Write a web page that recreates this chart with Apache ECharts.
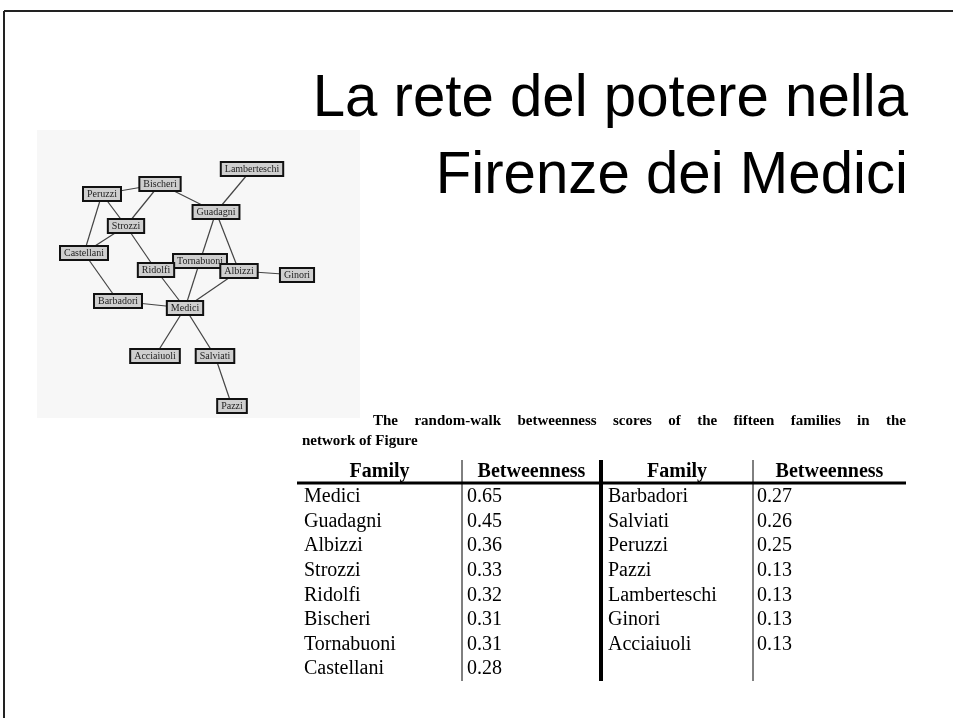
<!DOCTYPE html>
<html>
<head>
<meta charset="utf-8">
<script src="https://cdn.jsdelivr.net/npm/echarts@6/dist/echarts.min.js"></script>
<style>
  html, body { margin: 0; padding: 0; background: #fff; }
  #main { width: 953px; height: 718px; }
</style>
</head>
<body>
<div id="main"></div>
<script>
var dom = document.getElementById('main');
var myChart = echarts.init(dom, null, { renderer: 'canvas' });

// network: node names and their place inside the figure (figure units, origin top-left)
var nodeNames = ['Lamberteschi', 'Bischeri', 'Peruzzi', 'Guadagni', 'Strozzi', 'Castellani',
    'Tornabuoni', 'Ridolfi', 'Albizzi', 'Ginori', 'Barbadori', 'Medici', 'Acciaiuoli', 'Salviati', 'Pazzi'];
var nodeX = [215, 123, 65, 179, 89, 47, 163, 119, 202, 260, 81, 148, 118, 178, 195];
var nodeY = [39, 54, 64, 82, 96, 123, 131, 140, 141, 145, 171, 178, 226, 226, 276];
var linkFrom = ['Peruzzi', 'Peruzzi', 'Peruzzi', 'Bischeri', 'Bischeri', 'Lamberteschi', 'Guadagni',
    'Guadagni', 'Albizzi', 'Albizzi', 'Strozzi', 'Strozzi', 'Castellani', 'Ridolfi', 'Ridolfi',
    'Barbadori', 'Medici', 'Medici', 'Salviati', 'Tornabuoni'];
var linkTo = ['Bischeri', 'Strozzi', 'Castellani', 'Strozzi', 'Guadagni', 'Guadagni', 'Tornabuoni',
    'Albizzi', 'Ginori', 'Medici', 'Castellani', 'Ridolfi', 'Barbadori', 'Medici', 'Tornabuoni',
    'Medici', 'Acciaiuoli', 'Salviati', 'Pazzi', 'Medici'];

// table
var families1 = ['Medici', 'Guadagni', 'Albizzi', 'Strozzi', 'Ridolfi', 'Bischeri', 'Tornabuoni', 'Castellani'];
var scores1 = ['0.65', '0.45', '0.36', '0.33', '0.32', '0.31', '0.31', '0.28'];
var families2 = ['Barbadori', 'Salviati', 'Peruzzi', 'Pazzi', 'Lamberteschi', 'Ginori', 'Acciaiuoli'];
var scores2 = ['0.27', '0.26', '0.25', '0.13', '0.13', '0.13', '0.13'];
var headers = ['Family', 'Betweenness', 'Family', 'Betweenness'];

var titleLines = ['La rete del potere nella', 'Firenze dei Medici'];
var captionLine1 = 'The random-walk betweenness scores of the fifteen families in the';
var captionLine2 = 'network of Figure';

var serif = '"Liberation Serif", "Times New Roman", serif';

var nodes = [];
for (var i = 0; i < nodeNames.length; i++) {
    nodes.push({ name: nodeNames[i], value: [nodeX[i], nodeY[i]] });
}
var links = [];
for (var j = 0; j < linkFrom.length; j++) {
    links.push({ source: linkFrom[j], target: linkTo[j] });
}

var graphics = [];
// slide frame
graphics.push({ type: 'line', shape: { x1: 4, y1: 11, x2: 953, y2: 11 }, style: { stroke: '#222', lineWidth: 2 } });
graphics.push({ type: 'line', shape: { x1: 4, y1: 11, x2: 4, y2: 718 }, style: { stroke: '#222', lineWidth: 2 } });

// title
for (var t = 0; t < titleLines.length; t++) {
    graphics.push({
        type: 'text', x: 908, y: 99 + t * 77, scaleX: 0.97, originX: 0, originY: 0,
        style: {
            text: titleLines[t], fill: '#000', align: 'right', verticalAlign: 'middle',
            font: '60px "Liberation Sans", Arial, sans-serif'
        }
    });
}

// caption, justified like the original
var ctx = document.createElement('canvas').getContext('2d');
var capFont = 'bold 15px ' + serif;
ctx.font = capFont;
var words = captionLine1.split(' ');
var capLeft = 373, capRight = 906;
var total = 0;
words.forEach(function (w) { total += ctx.measureText(w).width; });
var gap = (capRight - capLeft - total) / (words.length - 1);
var cx = capLeft;
words.forEach(function (w) {
    graphics.push({ type: 'text', x: cx, y: 421, style: { text: w, font: capFont, fill: '#000', verticalAlign: 'middle' } });
    cx += ctx.measureText(w).width + gap;
});
graphics.push({ type: 'text', x: 302, y: 441, style: { text: captionLine2, font: capFont, fill: '#000', verticalAlign: 'middle' } });

// table frame
var tLeft = 297, tRight = 906, tTop = 460, tBottom = 681;
var colSep = [462, 601, 753];
var headCenters = [(tLeft + colSep[0]) / 2, (colSep[0] + colSep[1]) / 2, (colSep[1] + colSep[2]) / 2, (colSep[2] + tRight) / 2];
graphics.push({ type: 'line', shape: { x1: tLeft, y1: 483, x2: tRight, y2: 483 }, style: { stroke: '#000', lineWidth: 3 } });
graphics.push({ type: 'line', shape: { x1: colSep[0], y1: tTop, x2: colSep[0], y2: tBottom }, style: { stroke: '#000', lineWidth: 1 } });
graphics.push({ type: 'line', shape: { x1: colSep[1], y1: tTop, x2: colSep[1], y2: tBottom }, style: { stroke: '#000', lineWidth: 4 } });
graphics.push({ type: 'line', shape: { x1: colSep[2], y1: tTop, x2: colSep[2], y2: tBottom }, style: { stroke: '#000', lineWidth: 1 } });
headers.forEach(function (h, k) {
    graphics.push({ type: 'text', x: headCenters[k], y: 472, style: { text: h, font: 'bold 20px ' + serif, fill: '#000', align: 'center', verticalAlign: 'middle' } });
});
var rowTop = 497, rowStep = 24.6;
var cellFont = '20px ' + serif;
function addColumn(list, x) {
    list.forEach(function (s, r) {
        graphics.push({ type: 'text', x: x, y: rowTop + r * rowStep, style: { text: s, font: cellFont, fill: '#000', verticalAlign: 'middle' } });
    });
}
addColumn(families1, 304);
addColumn(scores1, 467);
addColumn(families2, 608);
addColumn(scores2, 757);

var option = {
    backgroundColor: '#fff',
    animation: false,
    grid: { left: 37, top: 130, width: 323, height: 288, show: true, backgroundColor: '#f7f7f7', borderWidth: 0 },
    xAxis: { type: 'value', min: 0, max: 323, show: false },
    yAxis: { type: 'value', min: 0, max: 288, inverse: true, show: false },
    series: [{
        type: 'graph',
        coordinateSystem: 'cartesian2d',
        symbol: 'rect',
        symbolSize: 1,
        itemStyle: { color: 'rgba(0,0,0,0)' },
        label: {
            show: true,
            position: 'inside',
            formatter: '{b}',
            fontFamily: serif,
            fontSize: 10,
            lineHeight: 10,
            color: '#222',
            backgroundColor: '#cfcfcf',
            borderColor: '#111',
            borderWidth: 2,
            padding: [1, 3]
        },
        lineStyle: { color: '#444', width: 1.2, opacity: 1 },
        emphasis: { disabled: true },
        data: nodes,
        links: links
    }],
    graphic: graphics
};
myChart.setOption(option);
</script>
</body>
</html>
